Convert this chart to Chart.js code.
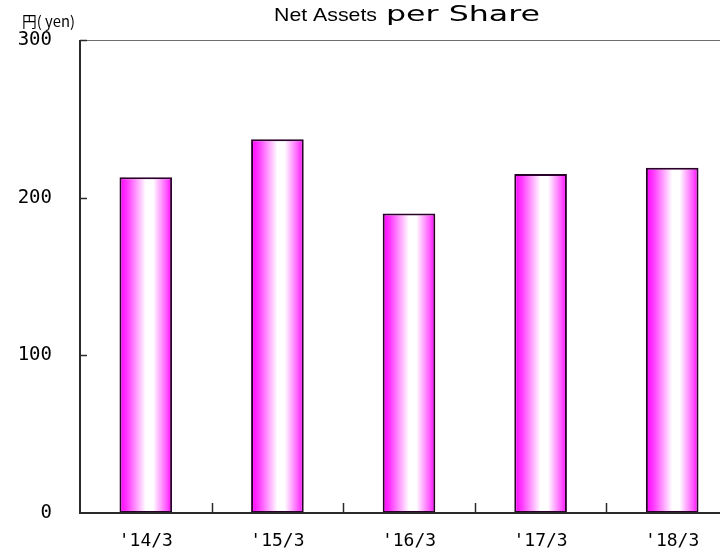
<!DOCTYPE html>
<html lang="ja">
<head>
<meta charset="utf-8">
<title>Net Assets per Share</title>
<script src="https://cdn.jsdelivr.net/npm/chart.js@4/dist/chart.umd.min.js"></script>
<style>
  html, body { margin: 0; padding: 0; background: #fff; overflow: hidden; }
  #frame { width: 720px; height: 553px; overflow: hidden; position: relative; }
  #box { width: 740px; height: 553px; position: absolute; left: 0; top: 0; }
</style>
</head>
<body>
<div id="frame">
  <div id="box"><canvas id="navChart"></canvas></div>
</div>
<script>
const categories = ["'14/3", "'15/3", "'16/3", "'17/3", "'18/3"];
const netAssets = [213, 237, 190, 215, 219];
const yTicks = [0, 100, 200, 300];
const unitLabel = '円( yen)';
const titleParts = ['Net Assets', 'per Share'];

const barShare = 0.4; // bar width as a share of its category

// magenta -> white -> magenta, across each bar
function barGradient(context) {
  const chart = context.chart;
  const xs = chart.scales.x;
  if (!xs || context.dataIndex === undefined) {
    return '#ff00ff';
  }
  const center = xs.getPixelForValue(context.dataIndex);
  const half = xs.width / categories.length * barShare / 2;
  if (!Number.isFinite(center) || !Number.isFinite(half) || half <= 0) {
    return '#ff00ff';
  }
  const g = chart.ctx.createLinearGradient(center - half, 0, center + half, 0);
  g.addColorStop(0, '#ff00ff');
  g.addColorStop(0.15, '#ff3cff');
  g.addColorStop(0.5, '#ffffff');
  g.addColorStop(0.64, '#ffffff');
  g.addColorStop(0.9, '#ff55ff');
  g.addColorStop(1, '#ff00ff');
  return g;
}

function strokeLine(ctx, x1, y1, x2, y2) {
  ctx.beginPath();
  ctx.moveTo(x1, y1);
  ctx.lineTo(x2, y2);
  ctx.stroke();
}

// text squeezed or stretched so it runs from left to right
function fitText(ctx, text, left, right, baseline) {
  const w = ctx.measureText(text).width;
  ctx.save();
  ctx.translate(left, baseline);
  ctx.scale((right - left) / w, 1);
  ctx.fillText(text, 0, 0);
  ctx.restore();
}

// axes, top border and the short inward ticks
const frameLines = {
  id: 'frameLines',
  afterDatasetsDraw(chart) {
    const { ctx, chartArea: a, scales: { x, y } } = chart;
    const top = y.getPixelForValue(yTicks[yTicks.length - 1]);
    const bottom = y.getPixelForValue(0);
    ctx.save();

    ctx.strokeStyle = '#6e6e6e';
    ctx.lineWidth = 1;
    strokeLine(ctx, a.left, top + 0.5, a.right, top + 0.5);

    ctx.strokeStyle = '#2a2a2a';
    ctx.lineWidth = 2;
    strokeLine(ctx, a.left, top, a.left, bottom + 1);
    strokeLine(ctx, a.left, bottom, a.right, bottom);

    ctx.lineWidth = 1.5;
    yTicks.slice(1).forEach(v => {
      const py = Math.round(y.getPixelForValue(v)) + 0.5;
      strokeLine(ctx, a.left, py, a.left + 7, py);
    });
    for (let i = 1; i < categories.length; i++) {
      const px = Math.round((x.getPixelForValue(i - 1) + x.getPixelForValue(i)) / 2) + 0.5;
      strokeLine(ctx, px, bottom, px, bottom - 10);
    }
    ctx.restore();
  }
};

// title in two sizes plus the unit label
const headings = {
  id: 'headings',
  afterDraw(chart) {
    const ctx = chart.ctx;
    ctx.save();
    ctx.fillStyle = '#000';
    ctx.textBaseline = 'alphabetic';
    ctx.textAlign = 'left';

    ctx.font = '19px "Liberation Sans", sans-serif';
    fitText(ctx, titleParts[0], 274, 377, 21);
    ctx.font = '22px "DejaVu Sans", sans-serif';
    fitText(ctx, titleParts[1], 386, 540, 21);

    ctx.font = '15px "Noto Sans CJK JP", sans-serif';
    fitText(ctx, unitLabel, 22, 75, 27);
    ctx.restore();
  }
};

function renderChart() {
  const ctx = document.getElementById('navChart').getContext('2d');
  return new Chart(ctx, {
    type: 'bar',
    data: {
      labels: categories,
      datasets: [{
        label: titleParts.join(' '),
        data: netAssets,
        backgroundColor: barGradient,
        borderColor: '#2b002b',
        borderWidth: 2,
        borderSkipped: false,
        barPercentage: barShare,
        categoryPercentage: 1
      }]
    },
    options: {
      responsive: true,
      maintainAspectRatio: false,
      animation: false,
      layout: { padding: { left: 0, right: 2, top: 40, bottom: 0 } },
      plugins: {
        legend: { display: false },
        title: { display: false },
        tooltip: { enabled: false }
      },
      scales: {
        x: {
          afterFit: s => { s.height = 40; },
          grid: { display: false, drawTicks: false },
          border: { display: false },
          ticks: {
            color: '#000',
            padding: 18,
            maxRotation: 0,
            font: { family: '"DejaVu Sans Mono", monospace', size: 18 }
          }
        },
        y: {
          min: 0,
          max: 300,
          afterFit: s => { s.width = 80; },
          afterBuildTicks: s => { s.ticks = yTicks.map(v => ({ value: v })); },
          grid: { display: false, drawTicks: false },
          border: { display: false },
          ticks: {
            color: '#000',
            padding: 28,
            font: { family: '"DejaVu Sans Mono", monospace', size: 19 }
          }
        }
      }
    },
    plugins: [frameLines, headings]
  });
}

renderChart();
</script>
</body>
</html>
